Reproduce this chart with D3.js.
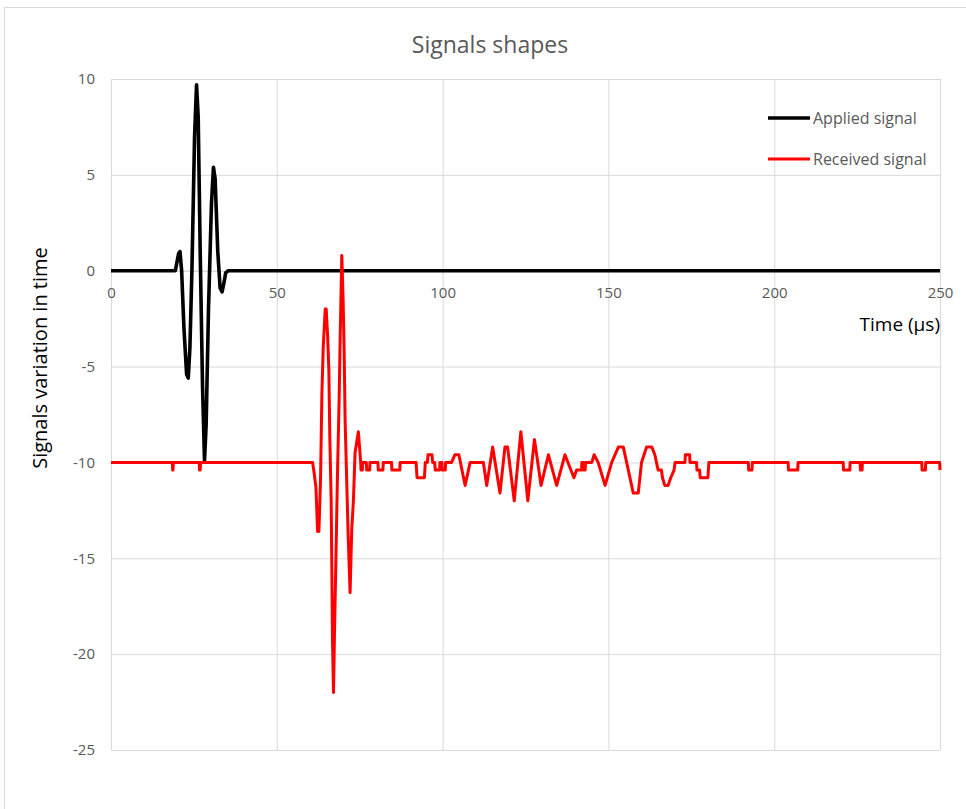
<!DOCTYPE html>
<html>
<head>
<meta charset="utf-8">
<script src="https://cdn.jsdelivr.net/npm/d3@7"></script>
<style>
  body { margin: 0; background: #fff; }
  svg text { font-family: "Open Sans", "Noto Sans", sans-serif; }
</style>
</head>
<body>
<div class="chart"></div>
<script>
// time in µs, signal value
var appliedSignal = [
    [0, 0], [19.4, 0], [20.4, 0.9], [20.8, 1.0], [21.3, 0], [22.0, -3.0], [22.8, -5.4], [23.3, -5.6],
    [23.8, -4.0], [24.4, 0], [25.2, 7.0], [25.8, 9.7], [26.3, 8.0], [26.9, 1.0], [27.6, -6.0],
    [28.2, -9.9], [28.7, -8.0], [29.4, -2.0], [30.3, 3.5], [30.9, 5.4], [31.4, 4.8], [32.2, 1.0],
    [32.9, -0.9], [33.5, -1.1], [34.1, -0.6], [34.6, -0.1], [35.4, 0], [250, 0]
];

var receivedSignal = [
    [0, -10], [18.5, -10], [18.6, -10.4], [18.7, -10.4], [18.8, -10],
    [26.6, -10], [26.7, -10.4], [26.9, -10.4], [27.0, -10],
    [60.8, -10], [61.3, -10.6], [61.8, -11.3], [62.3, -13.6], [62.7, -13.6], [63.2, -10.8],
    [63.6, -6.4], [64.0, -4.0], [64.6, -2.0], [64.9, -2.0], [65.3, -3.3], [65.7, -5.2], [66.0, -8.8],
    [66.4, -12.0], [66.6, -15.6], [66.8, -19.3], [67.1, -22.0], [67.4, -18.9], [67.8, -15.3],
    [68.3, -10.6], [68.8, -6.7], [69.1, -3.6], [69.6, 0.8], [70.0, -1.5], [70.3, -4.1], [70.6, -7.8],
    [71.0, -10.4], [71.5, -13.7], [72.1, -16.8], [72.6, -13.5], [73.1, -12.0], [73.6, -9.5],
    [74.6, -8.4], [75.3, -10],
    [75.4, -10.4], [75.8, -10.4], [75.9, -10], [77.0, -10], [77.1, -10.4], [78.0, -10.4], [78.1, -10],
    [80.5, -10], [80.6, -10.4], [82.0, -10.4], [82.1, -10], [84.6, -10], [84.7, -10.4], [87.1, -10.4],
    [87.2, -10], [92.0, -10], [92.3, -10.8], [94.5, -10.8], [94.8, -10], [95.4, -10], [95.6, -9.6],
    [96.8, -9.6], [97.0, -10], [97.6, -10], [97.8, -10.4], [99.1, -10.4], [99.2, -10], [99.8, -10],
    [99.9, -10.4], [100.8, -10.4], [100.9, -10], [102.7, -10], [103.7, -9.6], [104.9, -9.6],
    [106.8, -11.2], [108.3, -10], [112.3, -10], [113.3, -11.2], [115.1, -9.2], [117.3, -11.6],
    [118.8, -9.2], [119.6, -9.2], [121.6, -12.0], [123.6, -8.4], [125.7, -12.0], [127.7, -8.8],
    [129.7, -11.2], [131.9, -9.6], [134.4, -11.2], [136.9, -9.6], [139.6, -10.8], [140.4, -10.4],
    [141.9, -10.4], [142.0, -10], [142.5, -10], [142.6, -10.4], [143.0, -10.4], [143.1, -10],
    [145.0, -10], [145.7, -9.6], [146.9, -10], [149.0, -11.2], [151.0, -10], [153.0, -9.2],
    [154.5, -9.2], [155.5, -10], [157.5, -11.6], [159.0, -11.6], [160.0, -10], [161.5, -9.2],
    [163.1, -9.2], [164.0, -9.6], [165.0, -10.4], [166.0, -10.4], [166.3, -10.8], [167.0, -11.2],
    [168.0, -11.2], [168.8, -10.8], [169.8, -10.4], [170.1, -10], [173.1, -10], [173.2, -9.6],
    [174.5, -9.6], [174.6, -10], [176.6, -10], [176.7, -10.4], [177.5, -10.4], [177.7, -10.8],
    [180.0, -10.8], [180.3, -10],
    [192.2, -10], [192.3, -10.4], [193.3, -10.4], [193.4, -10], [204.2, -10], [204.3, -10.4],
    [207.1, -10.4], [207.2, -10], [220.8, -10], [220.9, -10.4], [222.8, -10.4], [222.9, -10],
    [225.9, -10], [226.0, -10.4], [226.5, -10.4], [226.6, -10], [244.5, -10], [244.6, -10.4],
    [245.6, -10.4], [245.7, -10], [249.9, -10], [250, -10.4]
];

var xTicks = [0, 50, 100, 150, 200, 250];
var yTicks = [10, 5, 0, -5, -10, -15, -20, -25];
var seriesNames = ['Applied signal', 'Received signal'];
var seriesColors = ['#000000', '#ff0000'];
var seriesWidths = [3.6, 3];

var svgWidth = 966;
var svgHeight = 809;

var svg = d3.select('.chart').append('svg')
    .attr('width', svgWidth)
    .attr('height', svgHeight);

// chart area border
svg.append('rect')
    .attr('x', 4.5)
    .attr('y', 7.5)
    .attr('width', 1000)
    .attr('height', 900)
    .attr('fill', '#fff')
    .attr('stroke', '#d9d9d9');

var x = d3.scaleLinear().domain([0, 250]).range([111, 940]);
var y = d3.scaleLinear().domain([-25, 10]).range([750, 79]);

var plain = function(d) { return String(d); };

// grid
svg.append('g')
    .attr('transform', 'translate(0,' + y(-25) + ')')
    .call(d3.axisBottom(x).tickValues(xTicks).tickSize(-(y(-25) - y(10))).tickFormat(''))
    .call(function(g) { g.select('.domain').remove(); })
    .selectAll('line').attr('stroke', '#d9d9d9');

svg.append('g')
    .attr('transform', 'translate(' + x(0) + ',0)')
    .call(d3.axisLeft(y).tickValues(yTicks).tickFormat(plain).tickSize(-(x(250) - x(0))).tickPadding(16))
    .call(function(g) { g.select('.domain').remove(); })
    .call(function(g) {
        g.selectAll('line').attr('stroke', '#d9d9d9');
        g.selectAll('text').attr('fill', '#595959').attr('font-size', '15px');
    });

// x axis along zero
svg.append('g')
    .attr('transform', 'translate(0,' + y(0) + ')')
    .call(d3.axisBottom(x).tickValues(xTicks).tickFormat(plain).tickSize(0).tickPadding(17))
    .call(function(g) {
        g.select('.domain').attr('stroke', '#d9d9d9');
        g.selectAll('text').attr('fill', '#595959').attr('font-size', '15px');
    });

var line = d3.line()
    .x(function(d) { return x(d[0]); })
    .y(function(d) { return y(d[1]); });

svg.append('path')
    .datum(appliedSignal)
    .attr('d', line)
    .attr('fill', 'none')
    .attr('stroke', seriesColors[0])
    .attr('stroke-width', seriesWidths[0])
    .attr('stroke-linejoin', 'round');

svg.append('path')
    .datum(receivedSignal)
    .attr('d', line)
    .attr('fill', 'none')
    .attr('stroke', seriesColors[1])
    .attr('stroke-width', seriesWidths[1])
    .attr('stroke-linejoin', 'round');

// title
svg.append('text')
    .attr('x', 490)
    .attr('y', 53)
    .attr('text-anchor', 'middle')
    .attr('font-size', '23px')
    .attr('fill', '#595959')
    .text('Signals shapes');

// axis titles
svg.append('text')
    .attr('x', 940)
    .attr('y', 331)
    .attr('text-anchor', 'end')
    .attr('font-size', '19px')
    .attr('fill', '#000')
    .text('Time (µs)');

svg.append('text')
    .attr('transform', 'translate(47,358) rotate(-90)')
    .attr('text-anchor', 'middle')
    .attr('font-size', '20px')
    .attr('fill', '#000')
    .text('Signals variation in time');

// legend
var legend = svg.selectAll('.legend')
    .data(seriesNames)
    .enter()
    .append('g')
    .attr('transform', function(d, i) {
        return 'translate(768,' + (118 + i * 41) + ')';
    });

legend.append('line')
    .attr('x1', 0)
    .attr('x2', 42)
    .attr('stroke', function(d, i) { return seriesColors[i]; })
    .attr('stroke-width', function(d, i) { return seriesWidths[i]; });

legend.append('text')
    .attr('x', 45)
    .attr('y', 6)
    .attr('font-size', '16px')
    .attr('fill', '#595959')
    .text(function(d) { return d; });
</script>
</body>
</html>
